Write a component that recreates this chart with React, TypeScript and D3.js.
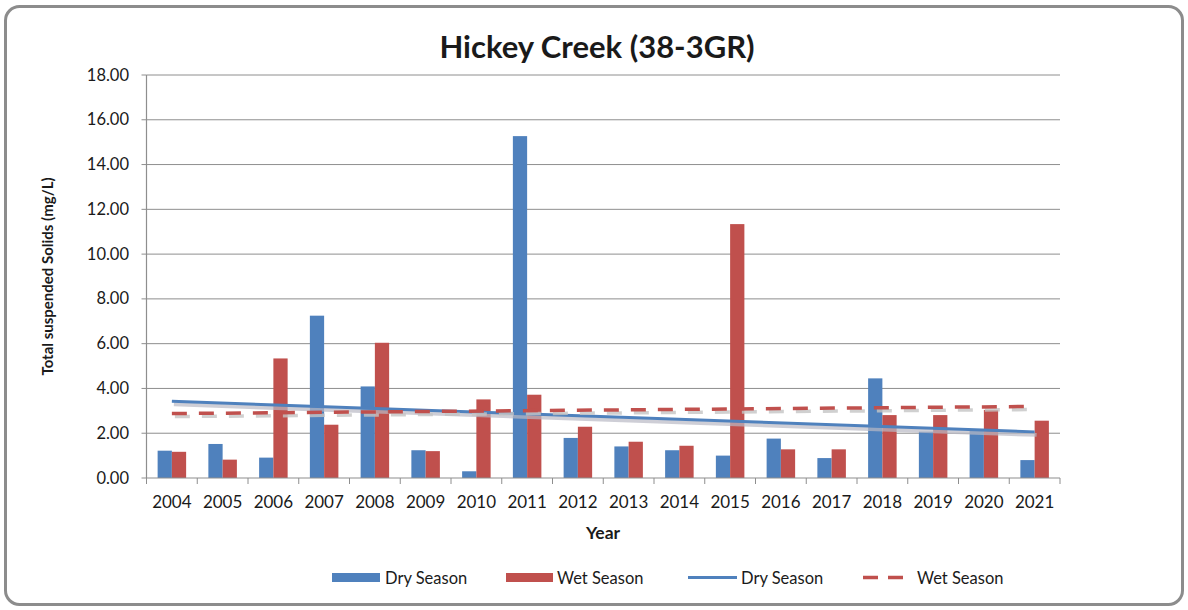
import React from 'react';
import * as d3 from 'd3';

const years = ['2004', '2005', '2006', '2007', '2008', '2009', '2010', '2011', '2012', '2013', '2014', '2015', '2016', '2017', '2018', '2019', '2020', '2021'];
const drySeason = [1.22, 1.52, 0.91, 7.25, 4.09, 1.24, 0.3, 15.27, 1.79, 1.41, 1.24, 1.0, 1.76, 0.89, 4.45, 2.07, 2.14, 0.8];
const wetSeason = [1.17, 0.82, 5.34, 2.38, 6.04, 1.2, 3.51, 3.72, 2.29, 1.62, 1.44, 11.34, 1.28, 1.28, 2.81, 2.81, 3.04, 2.56];
const yTicks = [0, 2, 4, 6, 8, 10, 12, 14, 16, 18];

const W = 1188;
const H = 610;
const FONT = 'Lato, "Open Sans", sans-serif';
const BLUE = '#4f81bd';
const RED = '#c0504d';
const GRID = '#8e8e8e';

// least squares fit over category index
function linearFit(vals: number[]) {
  const n = vals.length;
  const mx = (n - 1) / 2;
  const my = d3.mean(vals) || 0;
  let sxy = 0;
  let sxx = 0;
  vals.forEach((v, i) => {
    sxy += (i - mx) * (v - my);
    sxx += (i - mx) * (i - mx);
  });
  const slope = sxy / sxx;
  return (i: number) => my + slope * (i - mx);
}

export default function App() {
  const left = 146.5;
  const right = 1060;
  const top = 75;
  const bottom = 478;

  const x = d3.scaleBand<string>().domain(years).range([left, right]).paddingInner(0).paddingOuter(0);
  const inner = d3.scaleBand<string>().domain(['dry', 'wet']).range([0, x.bandwidth()]).paddingInner(0).paddingOuter(0.78);
  const y = d3.scaleLinear().domain([0, 18]).range([bottom, top]);

  const center = (i: number) => (x(years[i]) || 0) + x.bandwidth() / 2;
  const dryFit = linearFit(drySeason);
  const wetFit = linearFit(wetSeason);
  const ends = [0, years.length - 1];
  const line = (f: (i: number) => number) =>
    d3.line<number>().x((i) => center(i)).y((i) => y(f(i)))(ends) || '';

  const boundaries = years.map((yr) => x(yr) || 0).concat([right]);

  return (
    <div>
      <style>{`body{margin:0;background:#fff}`}</style>
      <svg width={W} height={H} style={{ display: 'block' }}>
        <rect x={0} y={0} width={W} height={H} fill="#fff" />
        <rect x={5.5} y={6.5} width={W - 11} height={H - 12} rx={14} ry={14} fill="#fff" stroke="#8c8c8c" strokeWidth={3} />

        <text x={597} y={58} textAnchor="middle" fontFamily={FONT} fontWeight="bold" fontSize={31} fill="#1a1a1a">
          Hickey Creek (38-3GR)
        </text>

        {/* gridlines */}
        {yTicks.filter((t) => t > 0).map((t) => (
          <line key={t} x1={left} x2={right} y1={y(t)} y2={y(t)} stroke={GRID} strokeWidth={1} />
        ))}

        {/* bars */}
        {years.map((yr, i) => (
          <g key={yr}>
            <rect x={(x(yr) || 0) + (inner('dry') || 0)} y={y(drySeason[i])} width={inner.bandwidth()} height={bottom - y(drySeason[i])} fill={BLUE} />
            <rect x={(x(yr) || 0) + (inner('wet') || 0)} y={y(wetSeason[i])} width={inner.bandwidth()} height={bottom - y(wetSeason[i])} fill={RED} />
          </g>
        ))}

        {/* trend lines with soft shadow */}
        <path d={line(dryFit)} transform="translate(2,3)" stroke="#b9b9c4" strokeOpacity={0.7} strokeWidth={4} fill="none" />
        <path d={line(dryFit)} stroke={BLUE} strokeWidth={3} fill="none" />
        <path d={line(wetFit)} transform="translate(3,3)" stroke="#c4c4c4" strokeOpacity={0.8} strokeWidth={3.5} strokeDasharray="15 12" fill="none" />
        <path d={line(wetFit)} stroke={RED} strokeWidth={3.5} strokeDasharray="15 12" fill="none" />

        {/* axes */}
        <line x1={left} x2={left} y1={top} y2={bottom} stroke={GRID} strokeWidth={1.2} />
        <line x1={left} x2={right} y1={bottom} y2={bottom} stroke={GRID} strokeWidth={1.2} />
        {yTicks.map((t) => (
          <g key={t}>
            <line x1={left - 5} x2={left} y1={y(t)} y2={y(t)} stroke={GRID} />
            <text x={129} y={y(t) + 5.5} textAnchor="end" fontFamily={FONT} fontSize={16.5} fill="#1a1a1a">
              {t.toFixed(2)}
            </text>
          </g>
        ))}
        {boundaries.map((b, i) => (
          <line key={i} x1={b} x2={b} y1={bottom} y2={bottom + 6} stroke={GRID} />
        ))}
        {years.map((yr, i) => (
          <text key={yr} x={center(i)} y={508} textAnchor="middle" fontFamily={FONT} fontSize={17} fill="#1a1a1a">
            {yr}
          </text>
        ))}

        <text x={603} y={539} textAnchor="middle" fontFamily={FONT} fontWeight="bold" fontSize={17.5} fill="#1a1a1a">
          Year
        </text>
        <text transform={`translate(53,${(top + bottom) / 2}) rotate(-90)`} textAnchor="middle" fontFamily={FONT} fontWeight="bold" fontSize={15} fill="#1a1a1a">
          Total suspended Solids (mg/L)
        </text>

        {/* legend */}
        <rect x={332} y={573} width={48} height={9} fill={BLUE} />
        <text x={385} y={584} fontFamily={FONT} fontSize={16.5} fill="#1a1a1a">Dry Season</text>
        <rect x={506} y={573} width={47} height={9} fill={RED} />
        <text x={557} y={584} fontFamily={FONT} fontSize={16.5} fill="#1a1a1a">Wet Season</text>
        <line x1={688} x2={737} y1={577.5} y2={577.5} stroke={BLUE} strokeWidth={3} />
        <text x={741} y={584} fontFamily={FONT} fontSize={16.5} fill="#1a1a1a">Dry Season</text>
        <line x1={863} x2={903} y1={577.5} y2={577.5} stroke={RED} strokeWidth={3.5} strokeDasharray="15 10" />
        <text x={917} y={584} fontFamily={FONT} fontSize={16.5} fill="#1a1a1a">Wet Season</text>
      </svg>
    </div>
  );
}
